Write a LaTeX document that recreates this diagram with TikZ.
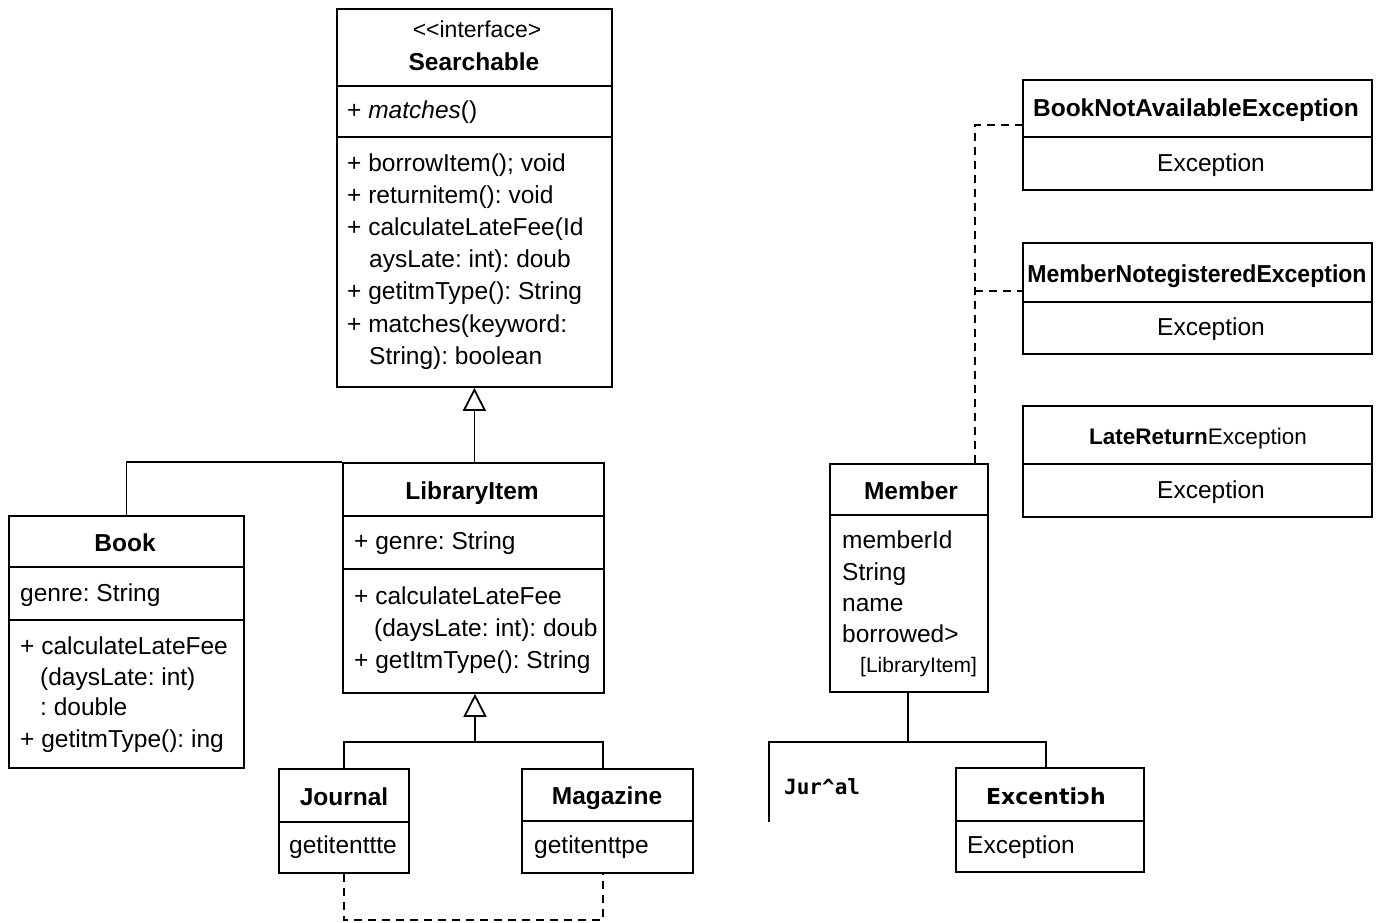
\documentclass[tikz,border=0pt]{standalone}
\usepackage{fontspec}
\setmainfont{Liberation Sans}[Ligatures=NoCommon]
\newfontfamily\dejabold{DejaVu Sans}[BoldFont={DejaVu Sans Bold}]
\newfontfamily\monofam{DejaVu Sans Mono}[BoldFont={DejaVu Sans Mono Bold}]
\usetikzlibrary{arrows.meta}
\frenchspacing
\tikzset{
  umlbox/.style={draw, line width=1.8pt, rectangle, inner sep=0pt, anchor=north west},
  divider/.style={line width=1.6pt},
  conn/.style={line width=1.8pt},
  inh/.style={line width=1.8pt, -{Triangle[open, width=23pt, length=23pt, line width=1.8pt]}},
  dep/.style={line width=1.5pt, dash pattern=on 8pt off 6pt},
  txt/.style={inner sep=0pt, font=\fontsize{24.5}{28}\selectfont},
  btxt/.style={inner sep=0pt, font=\fontsize{24.5}{28}\selectfont\bfseries},
  stxt/.style={inner sep=0pt, font=\fontsize{23}{26}\selectfont},
}
\begin{document}
\begin{tikzpicture}[x=1pt, y=-1pt]
\useasboundingbox (0,0) rectangle (1381,922);
\fill[white] (0,0) rectangle (1381,922);

% ---------- Searchable ----------
\node[umlbox, minimum width=275pt, minimum height=378pt] (srch) at (336,8) {};
\draw[divider] (srch.west |- 0,86) -- (srch.east |- 0,86);
\draw[divider] (srch.west |- 0,137) -- (srch.east |- 0,137);
\node[stxt, anchor=base] (srchst) at (477,37) {<{}<interface>};
\node[btxt, anchor=base] (srchname) at (474,70) {Searchable};
\node[txt, anchor=base west] (srcha) at (347,118) {+ \textit{matches}()};
\node[txt, anchor=base west] (srchm1) at (347,171) {+ borrowItem(); void};
\node[txt, anchor=base west] (srchm2) at (347,203) {+ returnitem(): void};
\node[txt, anchor=base west] (srchm3) at (347,235) {+ calculateLateFee(Id};
\node[txt, anchor=base west] (srchm4) at (369,267) {aysLate: int): doub};
\node[txt, anchor=base west] (srchm5) at (347,299) {+ getitmType(): String};
\node[txt, anchor=base west] (srchm6) at (347,332) {+ matches(keyword:};
\node[txt, anchor=base west] (srchm7) at (369,364) {String): boolean};

% ---------- Book ----------
\node[umlbox, minimum width=235pt, minimum height=252pt] (book) at (8,515) {};
\draw[divider] (book.west |- 0,567) -- (book.east |- 0,567);
\draw[divider] (book.west |- 0,620) -- (book.east |- 0,620);
\node[btxt, anchor=base] (bookname) at (125,551) {Book};
\node[txt, anchor=base west] (booka) at (20,601) {genre: String};
\node[txt, anchor=base west] (bookm1) at (20,654) {+ calculateLateFee};
\node[txt, anchor=base west] (bookm2) at (40,685) {(daysLate: int)};
\node[txt, anchor=base west] (bookm3) at (40,715) {: double};
\node[txt, anchor=base west] (bookm4) at (20,747) {+ getitmType(): ing};

% ---------- LibraryItem ----------
\node[umlbox, minimum width=261pt, minimum height=230pt] (lib) at (342,462) {};
\draw[divider] (lib.west |- 0,516) -- (lib.east |- 0,516);
\draw[divider] (lib.west |- 0,569) -- (lib.east |- 0,569);
\node[btxt, anchor=base] (libname) at (472,499) {LibraryItem};
\node[txt, anchor=base west] (liba) at (354,549) {+ genre: String};
\node[txt, anchor=base west] (libm1) at (354,604) {+ calculateLateFee};
\node[txt, anchor=base west] (libm2) at (374,636) {(daysLate: int): doub};
\node[txt, anchor=base west] (libm3) at (354,668) {+ getItmType(): String};

% ---------- Journal ----------
\node[umlbox, minimum width=130pt, minimum height=104pt] (jour) at (278,768) {};
\draw[divider] (jour.west |- 0,822) -- (jour.east |- 0,822);
\node[btxt, anchor=base] (journame) at (344,805) {Journal};
\node[txt, anchor=base west] (joura) at (289,853) {getitenttte};

% ---------- Magazine ----------
\node[umlbox, minimum width=171pt, minimum height=104pt] (mag) at (521,768) {};
\draw[divider] (mag.west |- 0,821) -- (mag.east |- 0,821);
\node[btxt, anchor=base] (magname) at (607,804) {Magazine};
\node[txt, anchor=base west] (maga) at (534,853) {getitenttpe};

% ---------- Member ----------
\node[umlbox, minimum width=158pt, minimum height=228pt] (mem) at (829,463) {};
\draw[divider] (mem.west |- 0,515) -- (mem.east |- 0,515);
\node[btxt, anchor=base] (memname) at (911,499) {Member};
\node[txt, anchor=base west] (mema1) at (842,548) {memberId};
\node[txt, anchor=base west] (mema2) at (842,580) {String};
\node[txt, anchor=base west] (mema3) at (842,611) {name};
\node[txt, anchor=base west] (mema4) at (842,642) {borrowed>};
\node[inner sep=0pt, font=\fontsize{21}{24}\selectfont, anchor=base west] (mema5) at (860,672) {[LibraryItem]};

% ---------- Exception (bottom) ----------
\node[umlbox, minimum width=188pt, minimum height=104pt] (exc) at (955,767) {};
\draw[divider] (exc.west |- 0,821) -- (exc.east |- 0,821);
\node[inner sep=0pt, font=\fontsize{22}{26}\dejabold\bfseries, anchor=base] (excname) at (1046,804) {Excentiɔh};
\node[txt, anchor=base west] (exca) at (967,853) {Exception};

\node[inner sep=0pt, font=\fontsize{21}{24}\monofam\bfseries, anchor=base west] (jural) at (784,794) {Jur\^{}al};

% ---------- Right exceptions ----------
\node[umlbox, minimum width=349pt, minimum height=110pt] (bna) at (1022,79) {};
\draw[divider] (bna.west |- 0,137) -- (bna.east |- 0,137);
\node[btxt, anchor=base] (bnaname) at (1196,116) {BookNotAvailableException};
\node[txt, anchor=base] (bnaa) at (1211,171) {Exception};

\node[umlbox, minimum width=349pt, minimum height=111pt] (mnr) at (1022,242) {};
\draw[divider] (mnr.west |- 0,302) -- (mnr.east |- 0,302);
\node[btxt, anchor=base, xscale=0.94] (mnrname) at (1197,282) {MemberNotegisteredException};
\node[txt, anchor=base] (mnra) at (1211,335) {Exception};

\node[umlbox, minimum width=349pt, minimum height=111pt] (lre) at (1022,405) {};
\draw[divider] (lre.west |- 0,464) -- (lre.east |- 0,464);
\node[inner sep=0pt, font=\fontsize{22.5}{26}\selectfont, anchor=base] (lrename) at (1198,444) {\textbf{LateReturn}Exception};
\node[txt, anchor=base] (lrea) at (1211,498) {Exception};

% ---------- Connectors ----------
\draw[inh] (srch.south |- lib.north) -- (srch.south);
\draw[conn] (book.north) |- (lib.north west);

\coordinate (libbar) at (475,742);
\draw[inh] (libbar) -- (libbar |- lib.south);
\draw[conn] (jour.north) -- (jour.north |- libbar) -- (603,742) -- (603,768);
\draw[dep] (jour.south) -- ++(0,46) -| (mag.south -| 603,0);

\coordinate (membar) at (908,742);
\coordinate (memleft) at (769,822);
\draw[conn] (membar |- mem.south) -- (membar);
\draw[conn] (memleft) |- (membar) -| (exc.north -| 1046,0);

\coordinate (dashtop) at (975,125);
\coordinate (dashmid) at (975,291);
\draw[dep] (mem.north -| dashtop) -- (dashtop) -- (dashtop -| bna.west);
\draw[dep] (dashmid) -- (dashmid -| mnr.west);
\end{tikzpicture}
\end{document}
